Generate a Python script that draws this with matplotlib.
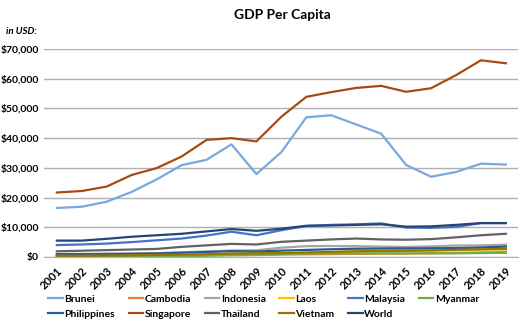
import matplotlib.pyplot as plt
from matplotlib.ticker import FuncFormatter

# GDP per capita, current USD
years = [str(y) for y in range(2001, 2020)]

brunei = [16500, 16900, 18600, 21900, 26100, 30900, 32700, 37900, 27900, 35300,
          47000, 47700, 44600, 41500, 31000, 27000, 28600, 31400, 31100]
cambodia = [320, 340, 360, 410, 470, 540, 630, 740, 735, 785,
            880, 950, 1030, 1100, 1160, 1270, 1380, 1510, 1640]
indonesia = [750, 900, 1070, 1150, 1260, 1590, 1860, 2170, 2260, 3120,
             3640, 3690, 3620, 3490, 3330, 3560, 3840, 3890, 4140]
laos = [330, 320, 360, 420, 470, 590, 710, 900, 940, 1140,
        1380, 1580, 1830, 1990, 2130, 2310, 2420, 2520, 2530]
malaysia = [4000, 4200, 4500, 5000, 5600, 6200, 7200, 8500, 7300, 9000,
            10400, 10800, 10970, 11300, 9900, 9800, 10100, 11400, 11400]
myanmar = [140, 150, 200, 220, 250, 300, 400, 560, 640, 990,
           1200, 1180, 1190, 1240, 1180, 1200, 1210, 1320, 1410]
philippines = [960, 1000, 1000, 1070, 1190, 1400, 1680, 1940, 1830, 2130,
               2360, 2590, 2760, 2840, 2870, 2940, 2980, 3190, 3490]
singapore = [21700, 22200, 23700, 27600, 29900, 33800, 39400, 40000, 38900, 47200,
             53900, 55500, 56900, 57600, 55600, 56800, 61200, 66200, 65200]
thailand = [1900, 2100, 2300, 2500, 2700, 3400, 3900, 4400, 4200, 5100,
            5500, 5900, 6200, 5900, 5800, 6000, 6600, 7300, 7800]
vietnam = [410, 440, 490, 550, 700, 800, 920, 1160, 1230, 1300,
           1500, 1700, 1900, 2050, 2090, 2170, 2370, 2570, 2720]
world = [5500, 5500, 6100, 6800, 7300, 7800, 8600, 9400, 8800, 9500,
         10500, 10600, 10800, 11000, 10200, 10300, 10800, 11400, 11400]

series = [
    ("Brunei", brunei, "#7AA8DB"),
    ("Cambodia", cambodia, "#ED7D31"),
    ("Indonesia", indonesia, "#A5A5A5"),
    ("Laos", laos, "#FFC000"),
    ("Malaysia", malaysia, "#4472C4"),
    ("Myanmar", myanmar, "#70AD47"),
    ("Philippines", philippines, "#255E91"),
    ("Singapore", singapore, "#A84A14"),
    ("Thailand", thailand, "#636363"),
    ("Vietnam", vietnam, "#997300"),
    ("World", world, "#264478"),
]

plt.rcParams['font.family'] = ['Lato', 'DejaVu Sans']
plt.rcParams['font.weight'] = 'bold'

fig = plt.figure(figsize=(5.22, 3.29), dpi=100)
ax = fig.add_axes([0.085, 0.219, 0.908, 0.632])

x = range(len(years))
lines = {}
for name, vals, color in series:
    lines[name], = ax.plot(x, vals, color=color, lw=1.6, label=name,
                           solid_joinstyle='round')

ax.set_xlim(-0.5, len(years) - 0.5)
ax.set_ylim(0, 70000)
ax.set_yticks(range(0, 70001, 10000))
ax.yaxis.set_major_formatter(FuncFormatter(lambda v, p: "${:,.0f}".format(v)))
ax.set_xticks(list(x))
ax.set_xticklabels(years, rotation=45, ha='right', rotation_mode='anchor')

ax.grid(axis='y', color='#B0B0B0', lw=1)
ax.set_axisbelow(True)
for s in ['top', 'right', 'left']:
    ax.spines[s].set_visible(False)
ax.spines['bottom'].set_color('#B0B0B0')
ax.tick_params(axis='both', length=0, labelsize=7.5, pad=4)
ax.tick_params(axis='x', labelsize=8, pad=6)

fig.text(0.54, 0.955, "GDP Per Capita", ha='center', va='center',
         fontsize=10, fontweight='bold')
fig.text(0.012, 0.905, "in USD:", ha='left', va='center',
         fontsize=7, fontweight='bold', style='italic')

# legend fills column by column, so order names to read row by row
names = [s[0] for s in series]
order = []
for i in range(6):
    order.append(names[i])
    if i + 6 < len(names):
        order.append(names[i + 6])
fig.legend([lines[n] for n in order], order, loc='center',
           bbox_to_anchor=(0.505, 0.068), ncol=6, frameon=False,
           fontsize=7.5, handlelength=1.4, handletextpad=0.15,
           columnspacing=1.3, labelspacing=0.5)

fig.savefig("out.png", dpi=100)
